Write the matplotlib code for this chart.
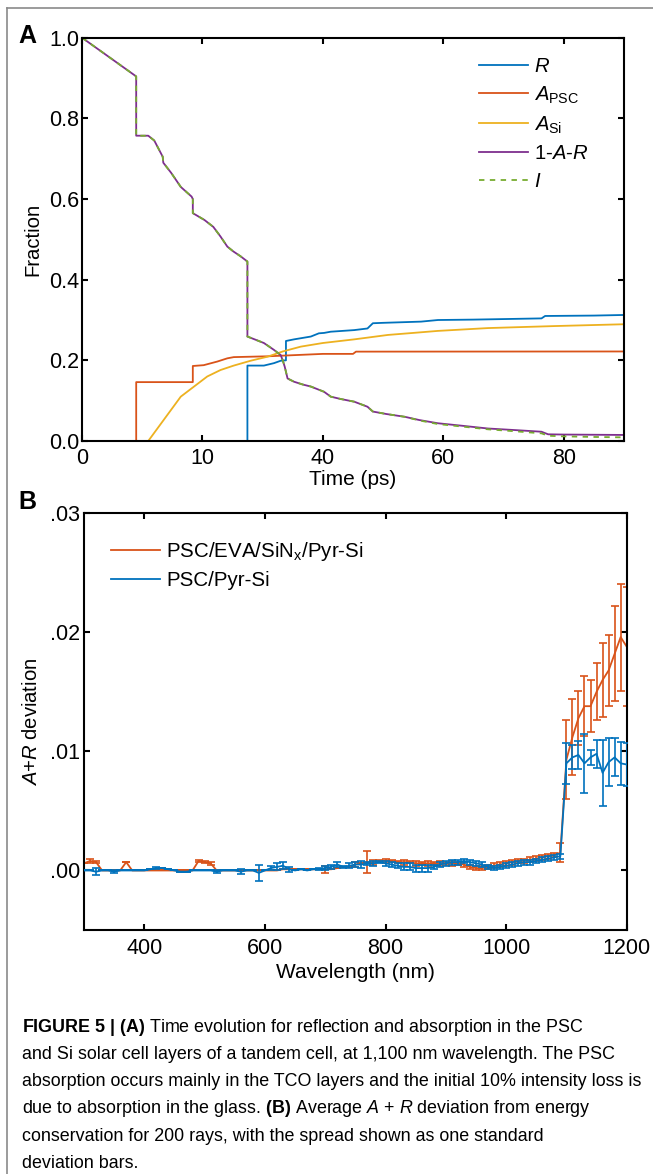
import numpy as np
import matplotlib
matplotlib.use('Agg')
import matplotlib.pyplot as plt
from matplotlib import font_manager
from matplotlib.lines import Line2D

# ---- panel A: time evolution (ps, fraction) ----
t_R = [0, 21.2, 21.2, 25.3, 27.8, 29.5, 30.8, 30.8, 32.8, 37.0, 39.0, 40.2, 41.3, 45.2,
       47.4, 48.3, 50.0, 56.3, 59.1, 65.0, 76.3, 76.9, 85.0, 90.0]
v_R = [0, 0, 0.187, 0.187, 0.193, 0.199, 0.200, 0.248, 0.252, 0.259, 0.267, 0.268, 0.271,
       0.275, 0.279, 0.292, 0.293, 0.296, 0.300, 0.301, 0.304, 0.310, 0.311, 0.3125]

t_Apsc = [0, 4.5, 4.5, 9.2, 9.2, 10.3, 13.7, 16.2, 17.8, 26.2, 40.0, 45.0, 45.5, 90.0]
v_Apsc = [0, 0, 0.146, 0.146, 0.186, 0.188, 0.197, 0.205, 0.208, 0.210, 0.216, 0.216,
          0.2216, 0.222]

t_Asi = [0, 5.5, 8.2, 11.2, 14.5, 17.8, 22.0, 26.2, 30.0, 34.5, 40.0, 45.2, 50.8, 55.0,
         59.1, 67.4, 78.5, 90.0]
v_Asi = [0, 0, 0.11, 0.16, 0.176, 0.187, 0.199, 0.209, 0.222, 0.234, 0.243, 0.252, 0.263,
         0.268, 0.273, 0.280, 0.285, 0.2895]

t_rest = [0, 4.5, 4.5, 5.5, 6.0, 6.7, 6.75, 7.4, 8.2, 9.1, 9.2, 9.2, 10.5, 12.7, 14.5, 16.2,
          17.7, 19.5, 21.2, 21.2, 23.0, 25.3, 27.8, 29.5, 30.0, 30.5, 31.2, 32.8, 35.0, 37.0,
          40.2, 41.3, 43.0, 45.2, 47.4, 48.3, 50.5, 53.6, 56.0, 59.1, 63.0, 67.4, 72.0,
          76.3, 77.4, 80.0, 85.0, 90.0]
v_rest = [1.0, 0.904, 0.757, 0.757, 0.745, 0.705, 0.690, 0.665, 0.630, 0.606, 0.600, 0.565,
          0.548, 0.531, 0.507, 0.482, 0.470, 0.458, 0.445, 0.259, 0.252, 0.243, 0.226, 0.213,
          0.200, 0.184, 0.155, 0.147, 0.140, 0.135, 0.122, 0.110, 0.104, 0.0975, 0.085,
          0.073, 0.067, 0.060, 0.052, 0.044, 0.038, 0.031, 0.027, 0.023, 0.0166, 0.0160,
          0.0155, 0.015]
v_I = [1.0, 0.904, 0.757, 0.757, 0.745, 0.705, 0.690, 0.665, 0.630, 0.606, 0.600, 0.565,
       0.548, 0.531, 0.507, 0.482, 0.470, 0.458, 0.445, 0.259, 0.252, 0.243, 0.226, 0.213,
       0.200, 0.184, 0.155, 0.147, 0.140, 0.135, 0.122, 0.110, 0.104, 0.0975, 0.085,
       0.073, 0.067, 0.060, 0.051, 0.042, 0.036, 0.029, 0.024, 0.019, 0.013, 0.0115,
       0.010, 0.009]

time_ticks = [0, 10, 40, 60, 80]

# ---- panel B: A+R deviation (units of 1e-3) vs wavelength ----
wl = np.arange(300, 1201, 10)
psc_eva = np.array([
    0.6, 0.8, 0.7, 0.0, 0.0, 0.0, 0.0, 0.7, 0.0, 0.0,
    0.0, 0.0, 0.0, 0.0, 0.0, 0.0, 0.0, 0.0, 0.0, 0.8,
    0.7, 0.6, 0.0, 0.0, 0.0, 0.0, 0.0, 0.0, 0.0, 0.0,
    0.0, 0.0, 0.0, 0.1, 0.1, 0.1, 0.1, 0.1, 0.1, 0.1,
    0.1, 0.1, 0.2, 0.3, 0.3, 0.5, 0.6, 0.7, 0.7, 0.8,
    0.8, 0.8, 0.7, 0.7, 0.7, 0.6, 0.6, 0.6, 0.6, 0.6,
    0.6, 0.6, 0.6, 0.5, 0.3, 0.2, 0.2, 0.3, 0.4, 0.5,
    0.6, 0.7, 0.8, 0.8, 0.9, 1.0, 1.1, 1.2, 1.3, 1.5,
    9.3, 11.2, 12.8, 13.8, 13.8, 15.0, 16.0, 16.8, 18.2, 19.6, 18.8]) * 1e-3
psc_eva_err = np.array([
    0.0, 0.2, 0.1, 0.0, 0.0, 0.0, 0.0, 0.0, 0.0, 0.0,
    0.0, 0.0, 0.0, 0.0, 0.0, 0.0, 0.0, 0.0, 0.0, 0.1,
    0.1, 0.1, 0.0, 0.0, 0.0, 0.0, 0.0, 0.0, 0.0, 0.0,
    0.0, 0.0, 0.0, 0.0, 0.0, 0.0, 0.0, 0.0, 0.0, 0.0,
    0.3, 0.0, 0.0, 0.0, 0.0, 0.2, 0.0, 0.9, 0.2, 0.1,
    0.2, 0.1, 0.1, 0.2, 0.1, 0.2, 0.1, 0.2, 0.1, 0.2,
    0.1, 0.2, 0.1, 0.2, 0.2, 0.2, 0.2, 0.2, 0.2, 0.2,
    0.2, 0.2, 0.2, 0.2, 0.2, 0.2, 0.2, 0.2, 0.2, 0.8,
    3.3, 3.2, 2.3, 2.5, 2.2, 2.4, 3.1, 3.0, 4.0, 4.5, 5.0]) * 1e-3

psc_pyr = np.array([
    0.0, 0.0, -0.1, 0.0, 0.0, -0.1, 0.0, 0.0, 0.0, 0.0,
    0.0, 0.1, 0.2, 0.2, 0.1, 0.0, -0.1, -0.1, 0.0, 0.0,
    0.0, 0.0, -0.1, 0.0, 0.0, 0.0, -0.1, 0.0, 0.0, -0.2,
    0.0, 0.2, 0.3, 0.4, 0.1, 0.0, 0.1, 0.0, 0.1, 0.1,
    0.2, 0.3, 0.5, 0.3, 0.4, 0.5, 0.5, 0.6, 0.6, 0.7,
    0.6, 0.5, 0.4, 0.3, 0.3, 0.2, 0.2, 0.2, 0.3, 0.5,
    0.6, 0.7, 0.7, 0.8, 0.7, 0.6, 0.5, 0.3, 0.2, 0.3,
    0.4, 0.5, 0.6, 0.7, 0.7, 0.8, 0.9, 1.0, 1.1, 1.2,
    9.0, 9.5, 9.7, 9.0, 9.5, 9.8, 8.2, 9.1, 9.5, 9.0, 8.9]) * 1e-3
psc_pyr_err = np.array([
    0.0, 0.0, 0.3, 0.0, 0.0, 0.15, 0.0, 0.0, 0.0, 0.0,
    0.0, 0.0, 0.1, 0.0, 0.0, 0.0, 0.0, 0.0, 0.0, 0.0,
    0.0, 0.0, 0.15, 0.0, 0.0, 0.0, 0.2, 0.0, 0.0, 0.7,
    0.0, 0.2, 0.3, 0.3, 0.2, 0.0, 0.0, 0.0, 0.0, 0.1,
    0.2, 0.2, 0.2, 0.1, 0.2, 0.2, 0.3, 0.1, 0.2, 0.1,
    0.2, 0.2, 0.2, 0.3, 0.3, 0.3, 0.3, 0.3, 0.2, 0.2,
    0.2, 0.2, 0.2, 0.2, 0.2, 0.2, 0.2, 0.2, 0.2, 0.2,
    0.2, 0.2, 0.2, 0.2, 0.2, 0.2, 0.2, 0.2, 0.2, 0.2,
    1.7, 1.0, 1.2, 2.5, 0.6, 1.2, 2.8, 2.0, 1.6, 1.8, 1.8]) * 1e-3

dev_ticks = [0.0, 0.01, 0.02, 0.03]
dev_labels = ['.00', '.01', '.02', '.03']

caption = [
    r'$\mathbf{FIGURE\ 5\ |\ (A)}$ Time evolution for reflection and absorption in the PSC',
    'and Si solar cell layers of a tandem cell, at 1,100 nm wavelength. The PSC',
    'absorption occurs mainly in the TCO layers and the initial 10% intensity loss is',
    r'due to absorption in the glass. $\mathbf{(B)}$ Average $\mathit{A}$ + $\mathit{R}$ deviation from energy',
    'conservation for 200 rays, with the spread shown as one standard',
    'deviation bars.',
]

# ---- style ----
names = {f.name for f in font_manager.fontManager.ttflist}
cap_font = 'Liberation Sans Narrow' if 'Liberation Sans Narrow' in names else 'Liberation Sans'

plt.rcParams['font.family'] = ['Liberation Sans', 'DejaVu Sans']
plt.rcParams['mathtext.fontset'] = 'custom'
plt.rcParams['mathtext.rm'] = 'Liberation Sans'
plt.rcParams['mathtext.it'] = 'Liberation Sans:italic'
plt.rcParams['mathtext.bf'] = cap_font + ':bold'
plt.rcParams['axes.linewidth'] = 1.5
plt.rcParams['xtick.direction'] = 'in'
plt.rcParams['ytick.direction'] = 'in'
plt.rcParams['xtick.top'] = True
plt.rcParams['ytick.right'] = True
plt.rcParams['xtick.major.width'] = 1.5
plt.rcParams['ytick.major.width'] = 1.5
plt.rcParams['xtick.major.size'] = 4
plt.rcParams['ytick.major.size'] = 4
plt.rcParams['xtick.labelsize'] = 15.5
plt.rcParams['ytick.labelsize'] = 15.5

blue = '#0072BD'
red = '#D95319'
yellow = '#EDB120'
purple = '#7E2F8E'
green = '#77AC30'

W, H = 653, 1174
fig = plt.figure(figsize=(W / 100, H / 100), dpi=100)

# frame around the figure
fig.add_artist(Line2D([7 / W, 7 / W], [0, 1 - 8 / H], transform=fig.transFigure,
                      color='#8a8a8a', lw=1.2))
fig.add_artist(Line2D([7 / W, 1], [1 - 8 / H, 1 - 8 / H], transform=fig.transFigure,
                      color='#8a8a8a', lw=1.2))

# ---- panel A ----
ax1 = fig.add_axes([82 / W, 1 - 441 / H, 542 / W, 403.3 / H])

t_knots = [-100, 0, 10, 40, 200]
u_knots = [-10, 0, 1, 2, 10]


def fwd(t):
    return np.interp(t, t_knots, u_knots)


def inv(u):
    return np.interp(u, u_knots, t_knots)


ax1.set_xscale('function', functions=(fwd, inv))
ax1.plot(t_R, v_R, color=blue, lw=1.3, label=r'$\mathit{R}$')
ax1.plot(t_Apsc, v_Apsc, color=red, lw=1.3, label=r'$\mathit{A}_{\mathrm{PSC}}$')
ax1.plot(t_Asi, v_Asi, color=yellow, lw=1.3, label=r'$\mathit{A}_{\mathrm{Si}}$')
ax1.plot(t_rest, v_rest, color=purple, lw=1.3, label=r'1-$\mathit{A}$-$\mathit{R}$')
ax1.plot(t_rest, v_I, color=green, lw=1.3, ls=(0, (3, 3)), label=r'$\mathit{I}$')
ax1.set_xlim(0, 90)
ax1.set_ylim(0, 1.0)
ax1.set_xticks(time_ticks)
ax1.set_xticklabels([str(t) for t in time_ticks])
ax1.set_yticks([0, 0.2, 0.4, 0.6, 0.8, 1.0])
ax1.set_yticklabels(['0.0', '0.2', '0.4', '0.6', '0.8', '1.0'])
ax1.tick_params(axis='y', pad=2)
ax1.tick_params(axis='x', pad=5)
ax1.set_xlabel('Time (ps)', fontsize=15, labelpad=1)
ax1.set_ylabel('Fraction', fontsize=14.6, labelpad=5)
ax1.legend(loc='upper left', bbox_to_anchor=(0.733, 0.952), frameon=False, fontsize=14.6,
           handlelength=2.4, handletextpad=0.3, labelspacing=0.42, borderpad=0,
           borderaxespad=0)

# ---- panel B ----
ax2 = fig.add_axes([84 / W, 1 - 930 / H, 542.7 / W, 416.7 / H])
ax2.errorbar(wl, psc_eva, yerr=psc_eva_err, fmt='none', ecolor=red, elinewidth=1.2,
             capsize=3, capthick=1.2, zorder=2)
ax2.plot(wl, psc_eva, color=red, lw=1.3, zorder=2.5, label='PSC/EVA/SiN$_{\\mathrm{x}}$/Pyr-Si')
ax2.errorbar(wl, psc_pyr, yerr=psc_pyr_err, fmt='none', ecolor=blue, elinewidth=1.2,
             capsize=3, capthick=1.2, zorder=3)
ax2.plot(wl, psc_pyr, color=blue, lw=1.3, zorder=3.5, label='PSC/Pyr-Si')
ax2.set_xlim(300, 1200)
ax2.set_ylim(-0.005, 0.03)
ax2.set_xticks([400, 600, 800, 1000, 1200])
ax2.set_yticks(dev_ticks)
ax2.set_yticklabels(dev_labels)
ax2.tick_params(axis='y', pad=3)
ax2.tick_params(axis='x', pad=6)
ax2.set_xlabel('Wavelength (nm)', fontsize=15, labelpad=3)
ax2.set_ylabel(r'$\mathit{A}$+$\mathit{R}$ deviation', fontsize=14.6, labelpad=6)
ax2.legend(loc='upper left', bbox_to_anchor=(0.049, 0.935), frameon=False, fontsize=14.8,
           handlelength=2.4, handletextpad=0.3, labelspacing=0.38, borderpad=0,
           borderaxespad=0)

# panel letters
fig.text(18 / W, 1 - 36 / H, 'A', fontsize=18, fontweight='bold', va='center')
fig.text(18 / W, 1 - 502 / H, 'B', fontsize=18, fontweight='bold', va='center')

# caption
for i, line in enumerate(caption):
    fig.text(22 / W, 1 - (1027 + 27.3 * i) / H, line, fontsize=12.9, family=cap_font,
             va='center', ha='left')

fig.savefig('out.png', dpi=100, facecolor='white')
